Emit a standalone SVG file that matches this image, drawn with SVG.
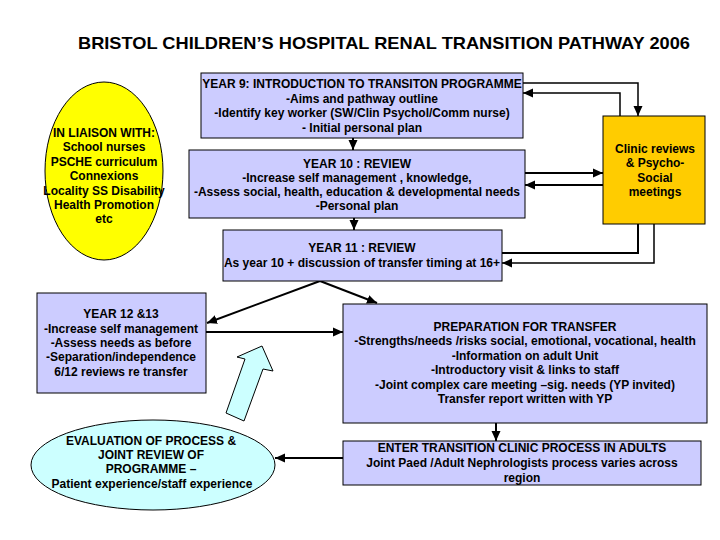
<svg xmlns="http://www.w3.org/2000/svg" width="720" height="540" viewBox="0 0 720 540">
<defs>
<marker id="ah" markerUnits="userSpaceOnUse" markerWidth="10" markerHeight="10" viewBox="0 0 10 10" refX="10" refY="5" orient="auto">
<path d="M0,0.5 L10,5 L0,9.5 Z" fill="#000"/>
</marker>
</defs>
<style>
text{font-family:"Liberation Sans",Arial,sans-serif;font-weight:bold;font-size:12px;fill:#000;text-anchor:middle}
.box{fill:#CCCCFF;stroke:#000;stroke-width:1}
.c{fill:none;stroke:#000;stroke-width:2}
.t{fill:none;stroke:#000;stroke-width:1.5}
</style>
<rect width="720" height="540" fill="#fff"/>
<text x="384" y="49" style="font-size:17px" textLength="612" lengthAdjust="spacingAndGlyphs">BRISTOL CHILDREN’S HOSPITAL RENAL TRANSITION PATHWAY 2006</text>

<g id="connectors">
<path class="t" d="M523,83 H638 V116" marker-end="url(#ah)"/>
<path class="t" d="M620,116 V93 H523" marker-end="url(#ah)"/>
<path class="c" d="M525,173 H603" marker-end="url(#ah)"/>
<path class="c" d="M603,185 H525" marker-end="url(#ah)"/>
<path class="c" d="M502,253 H638 V213" marker-end="url(#ah)"/>
<path class="t" d="M654,213 V263 H502" marker-end="url(#ah)"/>
<path class="c" d="M353,138 V150" marker-end="url(#ah)"/>
<path class="c" d="M354,218 V230" marker-end="url(#ah)"/>
<path class="c" d="M320,281 L207,323" marker-end="url(#ah)"/>
<path class="c" d="M320,281 L377,303" marker-end="url(#ah)"/>
<path class="c" d="M206,332 H343" marker-end="url(#ah)"/>
<path class="c" d="M496,423 V441" marker-end="url(#ah)"/>
<path class="c" d="M343,458 H275" marker-end="url(#ah)"/>
<polygon points="262,346 273,371 263,369 244,421 226,413 245,359 237,357" fill="#CCFFFF" stroke="#000" stroke-width="1"/>
</g>

<g id="liaison">
<ellipse cx="104" cy="171" rx="59" ry="89" fill="#FFFF00" stroke="#000" stroke-width="1"/>
<text x="104" y="137">IN LIAISON WITH:</text>
<text x="104" y="151">School nurses</text>
<text x="104" y="166">PSCHE curriculum</text>
<text x="104" y="180">Connexions</text>
<text x="104" y="195">Locality SS Disability</text>
<text x="104" y="209">Health Promotion</text>
<text x="104" y="223">etc</text>
</g>

<g id="year9">
<rect class="box" x="201" y="73" width="322" height="65"/>
<text x="362" y="88">YEAR 9: INTRODUCTION TO TRANSITON PROGRAMME</text>
<text x="362" y="103">-Aims and pathway outline</text>
<text x="362" y="117">-Identify key worker (SW/Clin Psychol/Comm nurse)</text>
<text x="362" y="132">- Initial personal plan</text>
</g>

<g id="year10">
<rect class="box" x="189" y="150" width="336" height="68"/>
<text x="357" y="168">YEAR 10 : REVIEW</text>
<text x="357" y="182">-Increase self management , knowledge,</text>
<text x="357" y="196">-Assess social, health, education &amp; developmental needs</text>
<text x="357" y="210">-Personal plan</text>
</g>

<g id="clinic">
<rect x="603" y="116" width="102" height="108" fill="#FFCC00" stroke="#000" stroke-width="1"/>
<text x="655" y="153">Clinic reviews</text>
<text x="655" y="167">&amp; Psycho-</text>
<text x="655" y="182">Social</text>
<text x="655" y="196">meetings</text>
</g>

<g id="year11">
<rect class="box" x="223" y="230" width="279" height="51"/>
<text x="362" y="252">YEAR 11 : REVIEW</text>
<text x="362" y="267">As year 10 + discussion of transfer timing at 16+</text>
</g>

<g id="year12">
<rect class="box" x="37" y="293" width="169" height="100"/>
<text x="121" y="318">YEAR 12 &amp;13</text>
<text x="121" y="333">-Increase self management</text>
<text x="121" y="347">-Assess needs as before</text>
<text x="121" y="361">-Separation/independence</text>
<text x="121" y="376">6/12 reviews re transfer</text>
</g>

<g id="preparation">
<rect class="box" x="343" y="304" width="364" height="119"/>
<text x="525" y="331">PREPARATION FOR TRANSFER</text>
<text x="525" y="345">-Strengths/needs /risks social, emotional, vocational, health</text>
<text x="525" y="360">-Information on adult Unit</text>
<text x="525" y="374">-Introductory visit &amp; links to staff</text>
<text x="525" y="389">-Joint complex care meeting –sig. needs (YP invited)</text>
<text x="525" y="403">Transfer report written with YP</text>
</g>

<g id="enter">
<rect class="box" x="343" y="441" width="358" height="44"/>
<text x="522" y="452">ENTER TRANSITION CLINIC PROCESS IN ADULTS</text>
<text x="522" y="467">Joint Paed /Adult Nephrologists process varies across</text>
<text x="522" y="482">region</text>
</g>

<g id="evaluation">
<ellipse cx="153" cy="465" rx="122" ry="45" fill="#CCFFFF" stroke="#000" stroke-width="1"/>
<text x="151" y="445">EVALUATION OF PROCESS &amp;</text>
<text x="151" y="459">JOINT REVIEW OF</text>
<text x="151" y="473">PROGRAMME  –</text>
<text x="152" y="488">Patient experience/staff experience</text>
</g>
</svg>
